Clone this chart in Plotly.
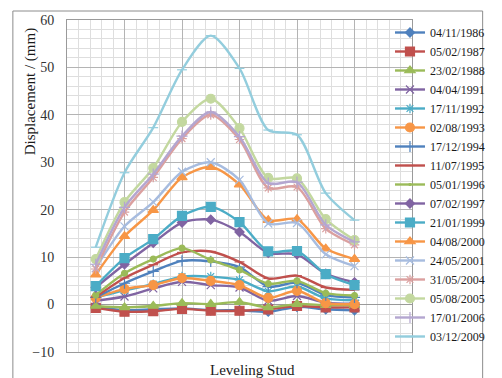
import plotly.graph_objects as go

# Leveling stud positions along the section
studs = [1, 2, 3, 4, 5, 6, 7, 8, 9, 10]

# Survey dates (legend labels)
dates = ["04/11/1986", "05/02/1987", "23/02/1988", "04/04/1991", "17/11/1992",
         "02/08/1993", "17/12/1994", "11/07/1995", "05/01/1996", "07/02/1997",
         "21/01/1999", "04/08/2000", "24/05/2001", "31/05/2004", "05/08/2005",
         "17/01/2006", "03/12/2009"]

# Displacement (mm) at each stud for each survey
d1986 = [-0.5, -1.2, -1.0, -0.8, -1.2, -1.2, -1.5, -0.5, -1.0, -1.2]
d1987 = [-0.7, -1.5, -1.4, -0.9, -1.3, -1.3, -1.0, -0.3, -0.6, -0.6]
d1988 = [-0.3, -0.6, -0.3, 0.3, 0.1, 0.5, -0.6, 0.1, -0.1, -0.1]
d1991 = [0.8, 1.7, 3.4, 4.8, 4.1, 3.6, 0.8, 1.8, 0.4, 0.2]
d1992 = [1.5, 3.0, 4.3, 5.9, 5.9, 5.2, 2.8, 3.8, 1.3, 0.9]
d1993 = [1.4, 3.3, 4.1, 5.6, 5.0, 4.1, 1.4, 2.9, 0.3, 0.1]
d1994 = [1.5, 4.5, 7.0, 9.2, 9.1, 7.9, 3.8, 4.6, 2.0, 1.5]
d1995 = [1.6, 5.6, 8.4, 11.0, 11.2, 9.0, 5.5, 6.1, 3.6, 3.1]
d1996 = [2.0, 6.6, 9.6, 11.9, 9.4, 7.3, 4.4, 5.0, 2.4, 1.9]
d1997 = [3.6, 8.5, 13.0, 17.3, 17.9, 15.3, 10.9, 10.6, 6.5, 4.7]
d1999 = [3.9, 9.8, 13.8, 18.7, 20.6, 17.4, 11.2, 11.3, 6.4, 4.1]
d2000 = [6.3, 14.4, 19.9, 26.8, 29.0, 25.3, 17.8, 18.0, 11.8, 9.6]
d2001 = [7.7, 16.5, 21.6, 28.0, 30.0, 26.3, 17.1, 17.2, 10.6, 8.1]
d2004 = [7.5, 19.5, 26.8, 35.0, 40.0, 34.8, 24.6, 24.8, 16.0, 12.6]
d2005 = [9.6, 21.6, 28.8, 38.5, 43.4, 37.2, 26.7, 26.6, 18.0, 13.6]
d2006 = [8.5, 20.5, 27.5, 35.5, 40.6, 35.4, 25.6, 25.8, 16.8, 13.2]
d2009 = [12.1, 27.8, 37.3, 49.5, 56.7, 49.8, 36.8, 35.8, 23.5, 17.8]

series = [d1986, d1987, d1988, d1991, d1992, d1993, d1994, d1995, d1996,
          d1997, d1999, d2000, d2001, d2004, d2005, d2006, d2009]

colors = ["#4F81BD", "#C0504D", "#9BBB59", "#8064A2", "#4BACC6", "#F79646",
          "#4F81BD", "#C0504D", "#9BBB59", "#8064A2", "#4BACC6", "#F79646",
          "#A7BCDF", "#DBA09F", "#C3D89F", "#B4A6D0", "#93CDDD"]

symbols = ["diamond", "square", "triangle-up", "x-thin-open", "asterisk-open",
           "circle", "cross-thin-open", "line-ew-open", "circle",
           "diamond", "square", "triangle-up", "x-thin-open", "asterisk-open",
           "circle", "cross-thin-open", "line-ew-open"]

sizes = [7, 9, 9, 8, 8, 9, 8, 7, 0, 7, 9, 9, 8, 8, 9, 8, 7]

fig = go.Figure()
for name, vals, col, sym, sz in zip(dates, series, colors, symbols, sizes):
    fig.add_trace(go.Scatter(
        x=studs, y=vals, name=name, mode="lines+markers",
        line=dict(color=col, width=2.4, shape="spline", smoothing=0.8),
        marker=dict(symbol=sym, size=sz, color=col,
                    line=dict(color=col, width=1.2)),
    ))

serif = "Liberation Serif"
grid_major = "#B4B4B4"
grid_minor = "#DEDEDE"

fig.update_layout(
    width=502, height=378,
    margin=dict(l=67, r=59, t=20, b=26),
    paper_bgcolor="white", plot_bgcolor="white",
    showlegend=True,
    legend=dict(
        x=(419 - 67) / 376, xanchor="left",
        y=(352 - 18) / 332, yanchor="top",
        bgcolor="rgba(0,0,0,0)", borderwidth=0,
        font=dict(family=serif, size=12, color="#1A1A1A"),
        tracegroupgap=0, itemwidth=30, maxheight=500,
    ),
    xaxis=dict(
        range=[0, 12], dtick=2, showticklabels=False, ticks="",
        showgrid=True, gridcolor=grid_major, gridwidth=1,
        minor=dict(dtick=0.4, showgrid=True, gridcolor=grid_minor, gridwidth=1),
        zeroline=False, showline=True, linecolor="#9A9A9A", mirror=True,
        fixedrange=True,
    ),
    yaxis=dict(
        range=[-10, 60], dtick=10,
        showgrid=True, gridcolor=grid_major, gridwidth=1,
        minor=dict(dtick=2, showgrid=True, gridcolor=grid_minor, gridwidth=1),
        zeroline=True, zerolinecolor="#9A9A9A", zerolinewidth=1,
        showline=True, linecolor="#9A9A9A", mirror=True,
        ticks="outside", ticklen=9, tickcolor="rgba(0,0,0,0)",
        tickfont=dict(family=serif, size=14, color="#333333"),
        fixedrange=True,
    ),
    annotations=[
        dict(text="Displacement / (mm)", textangle=-90,
             xref="paper", yref="paper",
             x=(27 - 67) / 376, y=(352 - 92) / 332,
             xanchor="center", yanchor="middle", showarrow=False,
             font=dict(family=serif, size=15, color="#1A1A1A")),
        dict(text="Leveling Stud",
             xref="paper", yref="paper",
             x=(269 - 67) / 376, y=(352 - 370) / 332,
             xanchor="center", yanchor="middle", showarrow=False,
             font=dict(family=serif, size=15, color="#1A1A1A")),
    ],
    shapes=[
        dict(type="rect", xref="paper", yref="paper",
             x0=(8 - 67) / 376, x1=(520 - 67) / 376,
             y0=(352 - 400) / 332, y1=(352 - 11) / 332,
             line=dict(color="#8C8C8C", width=1), fillcolor="rgba(0,0,0,0)"),
    ],
)

fig.write_html("out.html")
